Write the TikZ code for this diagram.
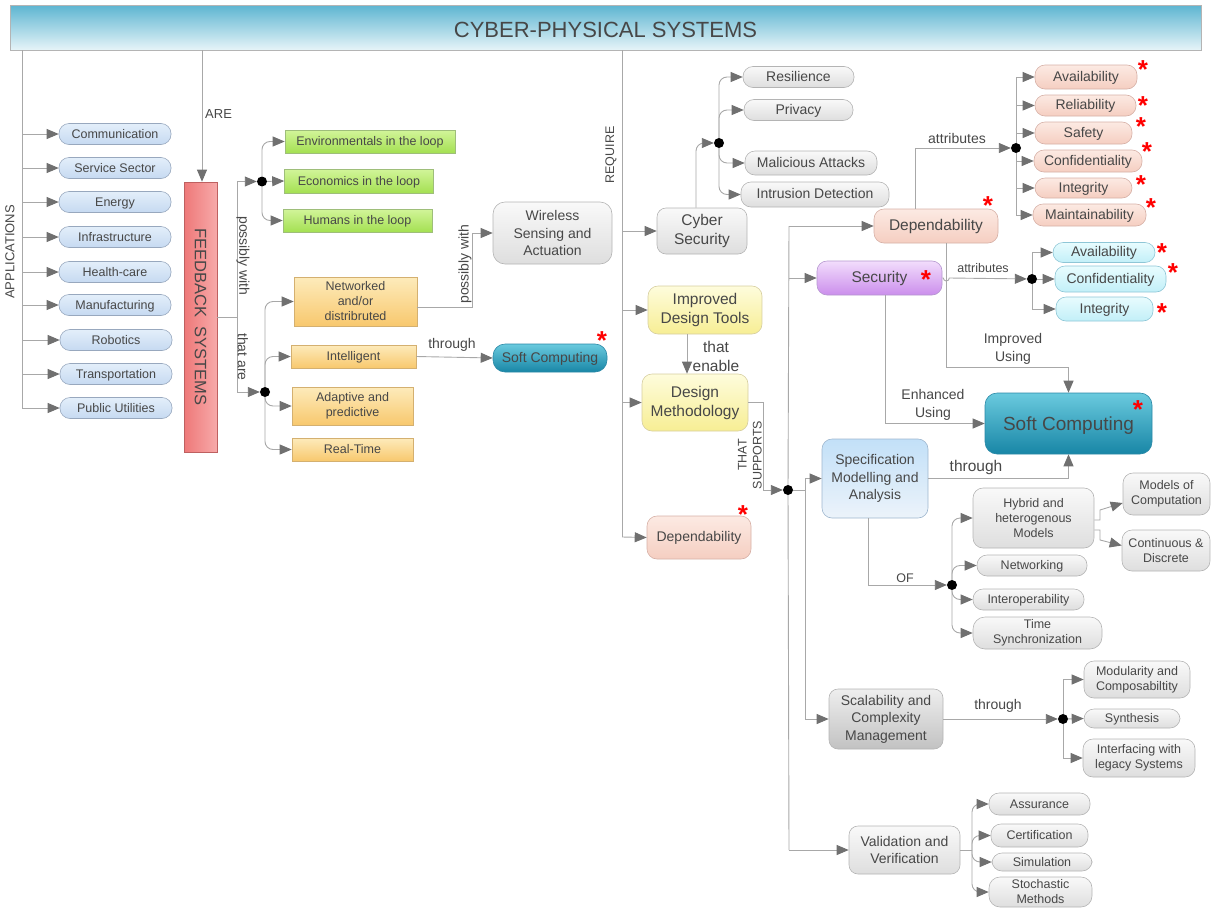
\documentclass[tikz,border=0pt]{standalone}
\usepackage{fontspec}
\setmainfont{Liberation Sans}
\usetikzlibrary{arrows.meta,positioning,calc}
\definecolor{cpsline}{HTML}{A8A8A8}
\definecolor{cpstip}{HTML}{707070}
\definecolor{cpstext}{HTML}{474747}
\definecolor{barTop}{HTML}{5DB5D1}
\definecolor{barBot}{HTML}{E6F4F8}
\definecolor{appTop}{HTML}{E3EEFA}
\definecolor{appBot}{HTML}{C6DAF1}
\definecolor{appEdge}{HTML}{98A8BE}
\definecolor{fbLeft}{HTML}{EE7878}
\definecolor{fbRight}{HTML}{F7AAAA}
\definecolor{loopTop}{HTML}{D2F59A}
\definecolor{loopBot}{HTML}{A4E052}
\definecolor{loopEdge}{HTML}{9EBE7A}
\definecolor{featTop}{HTML}{FDEBBB}
\definecolor{featBot}{HTML}{F8C86E}
\definecolor{featEdge}{HTML}{D4B070}
\definecolor{greyTop}{HTML}{F9F9F9}
\definecolor{greyBot}{HTML}{DEDEDE}
\definecolor{greyEdge}{HTML}{B4B4B4}
\definecolor{darkTop}{HTML}{EEEEEE}
\definecolor{darkBot}{HTML}{C2C2C2}
\definecolor{salTop}{HTML}{FCEAE3}
\definecolor{salBot}{HTML}{F5CEC1}
\definecolor{salEdge}{HTML}{D6B0A6}
\definecolor{purTop}{HTML}{F2DDFC}
\definecolor{purBot}{HTML}{CB8EEC}
\definecolor{purEdge}{HTML}{B597CF}
\definecolor{cyTop}{HTML}{E8FCFE}
\definecolor{cyBot}{HTML}{C2EFF8}
\definecolor{cyEdge}{HTML}{8EC6D6}
\definecolor{tealTop}{HTML}{6ACADE}
\definecolor{tealBot}{HTML}{1886A6}
\definecolor{tealEdge}{HTML}{2A88A6}
\definecolor{yelTop}{HTML}{FEFCDC}
\definecolor{yelBot}{HTML}{F7EE94}
\definecolor{yelEdge}{HTML}{D6CEA0}
\definecolor{specTop}{HTML}{C2E0F8}
\definecolor{specBot}{HTML}{ECF3FA}
\definecolor{specEdge}{HTML}{9EB6CE}
\newcommand{\cpsstar}{\smash{\raisebox{-13.4pt}{*}}}

\begin{document}
\begin{tikzpicture}[
    x=1pt, y=-1pt,
    font=\fontsize{12.5}{15}\selectfont,
    text=cpstext,
    f125/.style={font=\fontsize{12.5}{15}\selectfont},
    f13/.style={font=\fontsize{13}{16}\selectfont},
    f14/.style={font=\fontsize{14}{17.5}\selectfont},
    f155/.style={font=\fontsize{15.5}{19}\selectfont},
    sz/.style 2 args={minimum width=#1pt, minimum height=#2pt},
    sl/.style={text height=9pt, text depth=0.5pt},
    cpsbox/.style={line width=0.6pt, align=center, inner sep=1pt},
    titlebar/.style={cpsbox, draw=greyEdge, top color=barTop, bottom color=barBot, font=\fontsize{22}{26}\selectfont, text height=20pt, text depth=0pt},
    appbox/.style={cpsbox, sl, draw=appEdge, top color=appTop, bottom color=appBot, rounded corners=10pt, sz={112}{21}},
    fbbox/.style={cpsbox, draw=fbLeft!80!black, left color=fbLeft, right color=fbRight},
    loopbox/.style={cpsbox, sl, draw=loopEdge, top color=loopTop, bottom color=loopBot},
    featbox/.style={cpsbox, draw=featEdge, top color=featTop, bottom color=featBot},
    greybox/.style={cpsbox, draw=greyEdge, top color=greyTop, bottom color=greyBot, rounded corners=9pt},
    pill/.style={greybox, sl, rounded corners=10pt},
    darkbox/.style={cpsbox, draw=greyEdge, top color=darkTop, bottom color=darkBot, rounded corners=9pt},
    salbox/.style={cpsbox, sl, draw=salEdge, top color=salTop, bottom color=salBot, rounded corners=10pt},
    purbox/.style={cpsbox, sl, draw=purEdge, top color=purTop, bottom color=purBot, rounded corners=10pt},
    cybox/.style={cpsbox, sl, draw=cyEdge, top color=cyTop, bottom color=cyBot, rounded corners=10pt},
    tealbox/.style={cpsbox, sl, draw=tealEdge, top color=tealTop, bottom color=tealBot, rounded corners=12pt},
    yelbox/.style={cpsbox, draw=yelEdge, top color=yelTop, bottom color=yelBot, rounded corners=10pt},
    specbox/.style={cpsbox, draw=specEdge, top color=specTop, bottom color=specBot, rounded corners=10pt},
    dot/.style={circle, fill=black, minimum size=10pt, inner sep=0pt},
    link/.style={draw=cpsline, line width=0.9pt},
    arrow/.style={link, -{Triangle[length=12pt, width=10pt, color=cpstip]}},
    curvy/.style={rounded corners=8pt},
    lbl/.style={inner sep=1pt, align=center},
    redstar/.style={text=red, font=\fontsize{26}{26}\selectfont\bfseries, inner sep=0pt, text height=4pt, text depth=4pt}
]
\useasboundingbox (0,0) rectangle (1211,908);

% top bar
\node[titlebar, sz={1191}{45}] (cps) at (605.5,27.5) {CYBER-PHYSICAL SYSTEMS};

% applications
\node[appbox] (comm) at (115,134) {Communication};
\node[appbox] (serv) at (115,168) {Service Sector};
\node[appbox] (enrg) at (115,202) {Energy};
\node[appbox] (infr) at (115,237) {Infrastructure};
\node[appbox] (hlth) at (115,272) {Health-care};
\node[appbox] (manu) at (115,305) {Manufacturing};
\node[appbox] (robo) at (116,340) {Robotics};
\node[appbox] (trsp) at (116,374) {Transportation};
\node[appbox] (pubu) at (116,408) {Public Utilities};
\coordinate (appbus) at (22,408);

% feedback systems
\node[fbbox, sz={33}{270}, label={[rotate=-90, font=\fontsize{16.5}{20}\selectfont]center:FEEDBACK\ \ SYSTEMS}] (fb) at (200.5,317) {};
\coordinate (fbk) at (237,317);
\node[dot] (dpw) at (262,181.5) {};
\node[dot] (dta) at (265,392) {};
\node[loopbox, sz={170}{23}] (env) at (370,141.5) {Environmentals in the loop};
\node[loopbox, sz={149}{24}] (eco) at (359,181) {Economics in the loop};
\node[loopbox, sz={149}{23}] (hum) at (357.5,220.5) {Humans in the loop};
\node[featbox, sz={123}{49}] (net) at (355.5,301.5) {Networked\\and/or\\distribruted};
\node[featbox, sl, sz={125}{23}] (intl) at (353.5,356.5) {Intelligent};
\node[featbox, sz={121}{38}] (adap) at (352.5,406) {Adaptive and\\predictive};
\node[featbox, sl, sz={121}{23}] (rtim) at (352.5,449.5) {Real-Time};
\node[greybox, f14, sz={119}{62}, rounded corners=12pt] (wsa) at (552.5,233) {Wireless\\Sensing and\\Actuation};
\coordinate (pwb) at (472,233);
\node[tealbox, f14, sz={114}{28}] (scs) at (550,358) {Soft Computing};

% requirements
\coordinate (reqbus) at (622,537);
\node[greybox, f155, sz={90}{46}] (cyb) at (702,231) {Cyber\\Security};
\node[dot] (dcy) at (719,143) {};
\node[pill, f14, sz={111}{21}] (resi) at (798.5,77) {Resilience};
\node[pill, f14, sz={109}{21}] (priv) at (798.5,110) {Privacy};
\node[pill, f14, sz={132}{24}] (malc) at (811,163) {Malicious Attacks};
\node[pill, f14, sz={148}{25}] (intr) at (815,194.5) {Intrusion Detection};
\node[yelbox, f155, sz={114}{48}] (idt) at (705,310) {Improved\\Design Tools};
\node[yelbox, f155, sz={106}{57}] (dmth) at (695,402.5) {Design\\Methodology};
\node[salbox, f14, sz={104}{43}] (dep2) at (699,537.5) {Dependability};
\coordinate (supb) at (763,490);
\node[dot] (dsup) at (788,490) {};
\coordinate (trk) at (789,226);
\coordinate (trkb) at (789,850);
\coordinate (sb) at (805,490);

% dependability and security
\node[salbox, f155, sz={124}{34}] (dep1) at (936,226) {Dependability};
\node[purbox, f155, sz={125}{34}] (secu) at (879.5,278) {Security};
\node[dot] (dda) at (1016,148) {};
\node[salbox, f14, sz={102}{24}] (dav) at (1086,77) {Availability};
\node[salbox, f14, sz={101}{21}] (drl) at (1085.5,105.5) {Reliability};
\node[salbox, f14, sz={97}{22}] (dsf) at (1083.5,133) {Safety};
\node[salbox, f14, sz={108}{22}] (dcf) at (1088,161) {Confidentiality};
\node[salbox, f14, sz={97}{20}] (din) at (1083.5,188) {Integrity};
\node[salbox, f14, sz={113}{22}] (dmt) at (1089.5,215) {Maintainability};
\node[dot] (dsa) at (1032,279) {};
\node[cybox, f14, sz={102}{20}] (sav) at (1104,252.5) {Availability};
\node[cybox, f14, sz={111}{26}] (scf) at (1110.5,279) {Confidentiality};
\node[cybox, f14, sz={97}{24}] (sint) at (1104.5,309) {Integrity};
\node[tealbox, sz={167}{61}, font=\fontsize{19}{22}\selectfont, text height=13.5pt] (scb) at (1068.5,423.5) {Soft Computing};
\coordinate (iub) at (1068.5,367);

% design methodology support
\node[specbox, f14, sz={106}{79}] (spec) at (875,478.5) {Specification\\Modelling and\\Analysis};
\node[dot] (dof) at (952,585) {};
\node[greybox, sz={121}{60}, rounded corners=10pt] (hyb) at (1033.5,518) {Hybrid and\\heterogenous\\Models};
\node[pill, sz={110}{21}] (nwk) at (1032,565.5) {Networking};
\node[pill, sz={111}{21}] (iop) at (1028.5,599.5) {Interoperability};
\node[greybox, sz={129}{32}, rounded corners=12pt] (tsy) at (1037.5,633) {Time\\Synchronization};
\node[greybox, sz={87}{42}, rounded corners=10pt] (mcp) at (1166.5,494) {Models of\\Computation};
\node[greybox, sz={88}{41}, rounded corners=10pt] (cdis) at (1166,550.5) {Continuous \&\\Discrete};
\coordinate (hyA) at (1100,510);
\coordinate (hyB) at (1100,540);
\node[darkbox, f14, sz={114}{60}] (scal) at (886,719) {Scalability and\\Complexity\\Management};
\node[dot] (dsc) at (1063,719) {};
\node[greybox, sz={106}{37}, rounded corners=10pt] (modc) at (1137,679.5) {Modularity and\\Composabiltity};
\node[pill, sz={96}{19}] (synt) at (1132,718.5) {Synthesis};
\node[greybox, sz={112}{38}, rounded corners=10pt] (ifl) at (1139,758) {Interfacing with\\legacy Systems};
\node[greybox, f14, sz={111}{48}] (vval) at (904.5,850) {Validation and\\Verification};
\coordinate (vb) at (972,850);
\node[pill, sz={101}{22}] (asr) at (1039.5,804) {Assurance};
\node[pill, sz={97}{23}] (cert) at (1039.5,835.5) {Certification};
\node[pill, sz={100}{18}] (simu) at (1042,862) {Simulation};
\node[greybox, sz={103}{30}, rounded corners=11pt] (stoc) at (1040.5,892) {Stochastic\\Methods};

% connectors: applications
\draw[link] (cps.south -| appbus) -- (appbus);
\draw[arrow] (appbus |- comm) -- (comm.west);
\draw[arrow] (appbus |- serv) -- (serv.west);
\draw[arrow] (appbus |- enrg) -- (enrg.west);
\draw[arrow] (appbus |- infr) -- (infr.west);
\draw[arrow] (appbus |- hlth) -- (hlth.west);
\draw[arrow] (appbus |- manu) -- (manu.west);
\draw[arrow] (appbus |- robo) -- (robo.west);
\draw[arrow] (appbus |- trsp) -- (trsp.west);
\draw[arrow] (appbus) -- (pubu.west);

% connectors: feedback systems
\draw[arrow] ([xshift=1.5pt]cps.south -| fb.north) -- ([xshift=1.5pt]fb.north);
\draw[link] (fb.east |- fbk) -- (fbk);
\draw[arrow] (fbk) |- (dpw);
\draw[arrow] (fbk) |- (dta);
\draw[arrow, curvy] (dpw) |- (env.west);
\draw[arrow] (dpw) -- (eco.west);
\draw[arrow, curvy] (dpw) |- (hum.west);
\draw[arrow, curvy] (dta) |- (net.west);
\draw[arrow, curvy] (dta) |- (intl.west);
\draw[arrow, curvy] (dta) |- (adap.west);
\draw[arrow, curvy] (dta) |- (rtim.west);
\draw[arrow] ([yshift=-6pt]net.east) -| (pwb) -- (wsa.west);
\draw[arrow] (intl.east) -- (scs.west);

% connectors: requirements
\draw[link] (cps.south -| reqbus) -- (reqbus);
\draw[arrow] (reqbus |- cyb) -- (cyb.west);
\draw[arrow] (reqbus |- idt) -- (idt.west);
\draw[arrow] (reqbus |- dmth) -- (dmth.west);
\draw[arrow] (reqbus) -- (dep2.west);
\draw[arrow, curvy] ([xshift=-6pt]cyb.north) |- (dcy);
\draw[arrow, curvy] (dcy) |- (resi.west);
\draw[arrow, curvy] (dcy) |- (priv.west);
\draw[arrow, curvy] (dcy) |- (malc.west);
\draw[arrow, curvy] (dcy) |- (intr.west);
\draw[arrow] ([xshift=-18pt]idt.south) -- ([xshift=-8pt]dmth.north);
\draw[arrow] (dmth.east) -| (supb) -- (dsup);

% connectors: trunk
\draw[link] (trk) -- (dsup);
\draw[link] (dsup) -- (trkb);
\draw[arrow] (trk) -- (dep1.west);
\draw[arrow] (trk |- secu) -- (secu.west);
\draw[arrow] (trkb) -- (vval.west);
\draw[link] (dsup) -- (sb);
\draw[arrow] (sb) |- (spec.west);
\draw[arrow] (sb) |- (scal.west);

% connectors: dependability and security
\draw[arrow] ([xshift=-21pt]dep1.north) |- (dda);
\draw[arrow] (dda) |- (dav.west);
\draw[arrow] (dda) |- (drl.west);
\draw[arrow] (dda) |- (dsf.west);
\draw[arrow] (dda) |- (dcf.west);
\draw[arrow] (dda) |- (din.west);
\draw[arrow] (dda) |- (dmt.west);
\draw[arrow] (secu.east) -- ++(1pt,0) arc[start angle=180, end angle=360, radius=3pt] -- (dsa);
\draw[arrow] (dsa) |- (sav.west);
\draw[arrow] (dsa) -- (scf.west);
\draw[arrow] (dsa) |- (sint.west);
\draw[arrow] ([xshift=10pt]dep1.south) |- (iub) -- (scb.north);
\draw[arrow] ([xshift=6pt]secu.south) |- (scb.west);

% connectors: specification, scalability, validation
\draw[arrow] (spec.east) -| (scb.south);
\draw[arrow] ([xshift=-7pt]spec.south) |- (dof);
\draw[arrow, curvy] (dof) |- (hyb.west);
\draw[arrow, curvy] (dof) |- (nwk.west);
\draw[arrow, curvy] (dof) |- (iop.west);
\draw[arrow, curvy] (dof) |- (tsy.west);
\draw[arrow] ([yshift=-2pt]hyb.east) -| (hyA) -- ([yshift=-9pt]mcp.west);
\draw[arrow] ([yshift=-12pt]hyb.east) -| (hyB) -- ([yshift=5pt]cdis.west);
\draw[arrow] (scal.east) -- (dsc);
\draw[arrow] (dsc) |- (modc.west);
\draw[arrow] (dsc) -- (synt.west);
\draw[arrow] (dsc) |- (ifl.west);
\draw[link] (vval.east) -- (vb);
\draw[arrow, curvy] (vb) |- (asr.west);
\draw[arrow, curvy] (vb) |- (cert.west);
\draw[arrow, curvy] (vb) |- (simu.west);
\draw[arrow, curvy] (vb) |- (stoc.west);

% labels
\node[lbl, f13, rotate=90] at (10,252) {APPLICATIONS};
\node[lbl, f13, anchor=west] at (204,114) {ARE};
\node[lbl, f14, rotate=-90] at (243,256) {possibly with};
\node[lbl, f14, rotate=-90] at (243,357) {that are};
\node[lbl, f14, rotate=90] at (465,264) {possibly with};
\node[lbl, f14] at (452,345) {through};
\node[lbl, f125, rotate=90] at (611,155) {REQUIRE};
\node[lbl, f155] at (716,356) {that\\enable};
\node[lbl, f125, rotate=90] at (750,455) {THAT\\SUPPORTS};
\node[lbl, f14] at (957,138) {attributes};
\node[lbl, f125] at (983,268) {attributes};
\node[lbl, f14] at (1013,349) {Improved\\Using};
\node[lbl, f14] at (933,405) {Enhanced\\Using};
\node[lbl, f155] at (976,467) {through};
\node[lbl, f125] at (905,578) {OF};
\node[lbl, f14] at (998,706) {through};

% stars
\node[redstar] at (602,336) {\cpsstar};
\node[redstar] at (743,510) {\cpsstar};
\node[redstar] at (988,201) {\cpsstar};
\node[redstar] at (926,275) {\cpsstar};
\node[redstar] at (1138,405) {\cpsstar};
\node[redstar] at (1143,65) {\cpsstar};
\node[redstar] at (1143,101) {\cpsstar};
\node[redstar] at (1141,122) {\cpsstar};
\node[redstar] at (1147,147) {\cpsstar};
\node[redstar] at (1141,180) {\cpsstar};
\node[redstar] at (1151,203) {\cpsstar};
\node[redstar] at (1162,248) {\cpsstar};
\node[redstar] at (1173,268) {\cpsstar};
\node[redstar] at (1162,308) {\cpsstar};
\end{tikzpicture}
\end{document}
